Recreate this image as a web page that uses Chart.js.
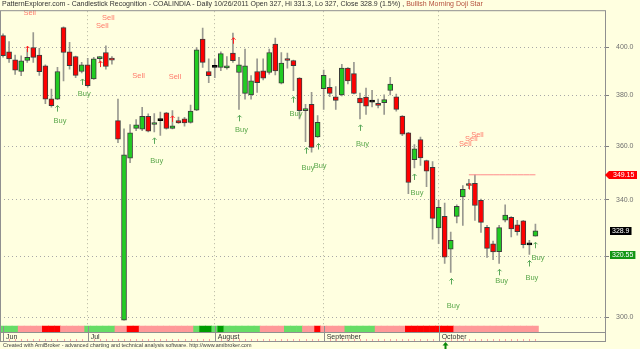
<!DOCTYPE html>
<html>
<head>
<meta charset="utf-8">
<script src="https://cdn.jsdelivr.net/npm/chart.js@4.4.0/dist/chart.umd.min.js"></script>
<style>
  html, body { margin: 0; padding: 0; background: #ffffe0; }
  #wrap { position: relative; width: 640px; height: 349px; overflow: hidden; }
  #chart { position: absolute; left: 0; top: 0; }
  #title { position: absolute; left: 2px; top: 0; font: 7px 'Liberation Sans', Arial, sans-serif; color: #333; white-space: nowrap; }
  #title .pat { color: #b4503c; }
  #footer { position: absolute; left: 3px; top: 342px; font: 5.45px 'Liberation Sans', Arial, sans-serif; color: #444; white-space: nowrap; }
</style>
</head>
<body>
<div id="wrap">
  <canvas id="chart" width="640" height="349"></canvas>
  <div id="title">PatternExplorer.com - Candlestick Recognition - COALINDIA - Daily 10/26/2011 Open 327, Hi 331.3, Lo 327, Close 328.9 (1.5%) , <span class="pat">Bullish Morning Doji Star</span></div>
  <div id="footer">Created with AmiBroker - advanced charting and technical analysis software. http://www.amibroker.com</div>
</div>
<script>
// month labels on the date axis (index of first bar of each month)
const monthNames = ['Jun', 'Jul', 'August', 'September', 'October'];
const monthStart = [0, 14, 35, 53, 72];

// daily OHLC, COALINDIA, June - 26 Oct 2011
const openP = [405.0, 398.1, 394.7, 389.8, 394.4, 399.9, 396.7, 392.2, 378.6, 378.5,
  408.5, 398.1, 396.1, 389.8, 392.6, 386.7, 395.2, 397.8, 395.1, 369.9,
  299.0, 355.4, 366.9, 366.6, 371.6, 368.4, 369.9, 373.0, 366.9, 369.9,
  370.6, 369.2, 374.1, 403.5, 389.8, 391.5, 391.5, 391.3, 397.5, 389.4,
  380.8, 380.2, 389.8, 390.1, 389.4, 401.4, 385.0, 395.1, 394.4, 387.1,
  373.9, 376.4, 363.5, 382.7, 383.3, 379.4, 380.2, 391.2, 388.9, 378.9,
  379.3, 377.3, 376.8, 377.1, 382.0, 379.4, 371.7, 365.1, 354.8, 362.5,
  354.5, 351.9, 329.9, 334.0, 322.5, 334.0, 341.0, 345.2, 346.0, 339.8,
  330.1, 324.4, 321.7, 332.7, 333.7, 331.0, 332.4, 324.0, 327.0];
const highP = [405.8, 402.4, 396.7, 396.4, 399.2, 406.3, 399.6, 392.6, 382.6, 391.5,
  408.8, 402.1, 396.3, 393.6, 395.3, 395.7, 396.1, 400.6, 396.1, 378.5,
  366.7, 368.4, 370.3, 375.2, 372.6, 372.7, 373.3, 373.2, 373.9, 371.3,
  371.2, 376.1, 399.9, 408.3, 395.1, 395.1, 398.1, 396.1, 406.1, 395.7,
  399.2, 388.1, 395.1, 395.1, 399.2, 403.9, 397.8, 397.5, 394.6, 387.3,
  376.4, 381.2, 371.9, 390.4, 386.9, 383.6, 392.8, 391.4, 393.6, 380.9,
  383.0, 382.1, 378.5, 380.2, 387.4, 380.5, 371.9, 365.3, 360.6, 363.5,
  354.7, 354.1, 339.8, 338.8, 328.5, 338.1, 345.2, 347.5, 349.15, 340.2,
  330.8, 325.3, 330.8, 338.1, 333.9, 332.6, 332.6, 325.6, 331.3];
const lowP = [395.8, 393.6, 388.6, 388.1, 393.6, 393.6, 388.2, 376.7, 375.3, 378.3,
  385.9, 390.8, 387.3, 389.2, 383.3, 386.5, 393.6, 390.8, 392.9, 361.3,
  299.0, 353.7, 366.0, 366.0, 365.5, 365.5, 364.1, 366.6, 366.7, 368.8,
  367.7, 368.9, 373.9, 391.5, 385.2, 387.3, 390.2, 390.8, 393.6, 374.4,
  378.5, 378.5, 381.2, 386.3, 388.7, 388.4, 384.7, 391.2, 381.9, 370.6,
  361.7, 357.7, 363.3, 374.4, 379.5, 374.4, 379.8, 384.7, 380.6, 370.6,
  372.4, 375.4, 375.0, 372.4, 380.2, 373.7, 364.0, 342.2, 351.7, 352.7,
  344.8, 326.0, 324.4, 317.7, 314.6, 331.7, 330.8, 344.0, 332.6, 328.3,
  319.7, 318.9, 317.7, 332.0, 326.8, 327.4, 323.0, 320.7, 327.0];
const closeP = [396.4, 395.1, 390.4, 394.3, 395.7, 395.7, 389.7, 378.5, 375.9, 389.8,
  397.8, 392.2, 388.2, 392.6, 384.0, 395.1, 395.4, 391.9, 394.6, 362.7,
  356.7, 365.1, 368.3, 371.6, 365.8, 369.0, 369.9, 366.9, 367.9, 369.0,
  369.0, 373.7, 398.9, 393.6, 388.1, 391.5, 397.3, 392.2, 394.3, 392.6,
  392.2, 386.0, 385.2, 387.0, 397.8, 390.1, 393.3, 394.4, 392.2, 373.9,
  374.6, 359.5, 369.2, 388.2, 380.8, 378.0, 391.2, 385.9, 380.8, 377.0,
  375.7, 377.3, 376.0, 378.3, 384.6, 374.4, 364.6, 346.3, 359.0, 355.5,
  350.5, 333.3, 337.2, 319.8, 325.6, 337.6, 343.8, 345.8, 337.9, 331.9,
  322.8, 321.6, 330.0, 334.5, 329.6, 328.6, 324.1, 324.0, 328.9];

// trend ribbon under the price pane: G green, D dark green, P pink, R red
const trendBand = 'GGGPPPPRRRPPPPGGGGGPPRRPPPPPPPPPGDDGDGGGGGGPPPPGGGPPRPPPPGGGGGPPPPPRRRRRRRRPPPPPPPPPPPPPP'.split('');

// signals
const buyIdx = [9, 13, 25, 39, 48, 50, 52, 59, 68, 74, 82, 87, 88];
const buyLabelAt = [369.8, 380.7, 354.4, 366.2, 372.5, 351.6, 352.6, 360.8, 342.4, 303.6, 311.8, 312.9, 319.5];
const sellIdx = [4, 16, 17, 22, 28, 76, 77, 78];
const sellLabelAt = [414.8, 409.1, 412.7, 388.0, 387.6, 360.8, 362.7, 364.3];
const upMarkIdx = [4, 16, 28, 38, 77];
const upMarkAt = [399.2, 392.9, 370.6, 402.8, 344.8];

const yTicks = [300, 320, 340, 360, 380, 400];
const resistance = 349.15;
const resistFrom = 77;
const tagValues = [349.15, 328.9, 320.55];
const tagKinds = ['red', 'black', 'green'];
const selectedIdx = 73;
const SLOTS = 100;

const bandColors = { G: '#66dd66', D: '#009c00', P: '#ff9999', R: '#ff0000' };
const labels = Array.from({ length: SLOTS }, (_, i) => {
  const m = monthStart.indexOf(i);
  return m >= 0 ? monthNames[m] : '';
});
const bodyColor = closeP.map((c, i) => c > openP[i] ? '#22cc22' : c < openP[i] ? '#ff0000' : '#000000');

Chart.defaults.font.family = "'Liberation Sans', Arial, sans-serif";

function arrow(ctx, cx, cy, color) {
  ctx.strokeStyle = color;
  ctx.lineWidth = 1;
  ctx.beginPath();
  ctx.moveTo(cx, cy + 3); ctx.lineTo(cx, cy - 3);
  ctx.moveTo(cx - 2, cy - 1); ctx.lineTo(cx, cy - 3); ctx.lineTo(cx + 2, cy - 1);
  ctx.stroke();
}

const extras = {
  id: 'extras',
  afterDatasetsDraw(chart) {
    const { ctx, scales: { x, y } } = chart;
    ctx.save();
    ctx.font = "7.5px 'Liberation Sans', Arial, sans-serif";
    ctx.textAlign = 'center';
    ctx.textBaseline = 'middle';
    ctx.fillStyle = '#ff7b6b';
    sellIdx.forEach((i, k) => ctx.fillText('Sell', x.getPixelForValue(i) + 2.5, y.getPixelForValue(sellLabelAt[k])));
    buyIdx.forEach((i, k) => {
      const cx = Math.round(x.getPixelForValue(i)) + 0.5;
      arrow(ctx, cx, y.getPixelForValue(lowP[i]) + 9, '#5aa85a');
      ctx.fillStyle = '#5ca84c';
      ctx.fillText('Buy', x.getPixelForValue(i) + 2.5, y.getPixelForValue(buyLabelAt[k]));
    });
    upMarkIdx.forEach((i, k) => arrow(ctx, Math.round(x.getPixelForValue(i)) + 0.5, y.getPixelForValue(upMarkAt[k]), '#ff2020'));
    ctx.restore();
  },
  afterDraw(chart) {
    const { ctx, chartArea: a, scales: { x, y } } = chart;
    ctx.save();
    // frame
    ctx.strokeStyle = '#909090';
    ctx.lineWidth = 1;
    ctx.strokeRect(0.5, a.top - 0.5, a.right, 341 - a.top + 1);
    // month separators and bar ticks on the date axis
    for (let i = 0; i < closeP.length; i++) {
      const px = Math.round(x.getPixelForValue(i)) + 0.5;
      ctx.strokeStyle = monthStart.includes(i) ? '#909090' : '#ffa0a0';
      ctx.beginPath();
      if (monthStart.includes(i)) { ctx.moveTo(px, a.bottom - 6); ctx.lineTo(px, 341); }
      else { ctx.moveTo(px, 341); ctx.lineTo(px, 339); }
      ctx.stroke();
    }
    // selected bar marker
    const sx = Math.round(x.getPixelForValue(selectedIdx)) + 0.5;
    ctx.fillStyle = '#0a8a0a';
    ctx.beginPath();
    ctx.moveTo(sx, 342); ctx.lineTo(sx - 3, 345.5); ctx.lineTo(sx + 3, 345.5); ctx.closePath(); ctx.fill();
    ctx.fillRect(sx - 1, 345, 2, 4);
    // value tags on the price axis
    ctx.font = "7px 'Liberation Sans', Arial, sans-serif";
    ctx.textBaseline = 'middle';
    ctx.textAlign = 'left';
    tagValues.forEach((v, k) => {
      const py = Math.round(y.getPixelForValue(v));
      const txt = String(v);
      if (tagKinds[k] === 'red') {
        ctx.fillStyle = '#ff0000';
        ctx.beginPath();
        ctx.moveTo(a.right, py); ctx.lineTo(a.right + 4, py - 4); ctx.lineTo(637, py - 4);
        ctx.lineTo(637, py + 4); ctx.lineTo(a.right + 4, py + 4); ctx.closePath(); ctx.fill();
        ctx.fillStyle = '#ffffff';
        ctx.fillText(txt, a.right + 8, py + 0.5);
      } else {
        const w = ctx.measureText(txt).width + 4;
        ctx.fillStyle = tagKinds[k] === 'black' ? '#000000' : '#149614';
        ctx.fillRect(a.right + 5, py - 4, w, 8);
        ctx.fillStyle = '#ffffff';
        ctx.fillText(txt, a.right + 7, py + 0.5);
      }
    });
    ctx.restore();
  }
};

new Chart(document.getElementById('chart'), {
  type: 'bar',
  data: {
    labels: labels,
    datasets: [
      {
        label: 'trend',
        data: trendBand.map(() => 1),
        backgroundColor: trendBand.map(c => bandColors[c]),
        yAxisID: 'ys',
        grouped: false,
        categoryPercentage: 1,
        barPercentage: 1,
        borderWidth: 0,
        order: 3
      },
      {
        label: 'range',
        data: lowP.map((l, i) => [l, highP[i]]),
        backgroundColor: '#999990',
        barThickness: 1,
        grouped: false,
        order: 2
      },
      {
        label: 'body',
        data: openP.map((o, i) => [o, closeP[i]]),
        backgroundColor: bodyColor,
        borderColor: bodyColor.map(c => c === '#000000' ? '#000000' : '#3c3c3c'),
        borderWidth: 1,
        borderSkipped: false,
        barThickness: 5,
        minBarLength: 2,
        grouped: false,
        order: 1
      },
      {
        type: 'line',
        label: 'resistance',
        data: closeP.map((_, i) => i >= resistFrom ? resistance : null),
        borderColor: '#ff8c8c',
        borderWidth: 1,
        pointRadius: 0,
        order: 0
      }
    ]
  },
  options: {
    responsive: false,
    animation: false,
    devicePixelRatio: 1,
    layout: { padding: { top: 10, left: 0, right: 0, bottom: 0 } },
    plugins: { legend: { display: false }, tooltip: { enabled: false } },
    scales: {
      x: {
        offset: true,
        afterFit: s => { s.height = 17; },
        grid: {
          offset: false,
          drawTicks: false,
          color: ctx => (ctx.index > 0 && monthStart.includes(ctx.index)) ? '#b4b4a0' : 'rgba(0,0,0,0)'
        },
        border: { display: true, color: '#909090', dash: [1, 3] },
        ticks: {
          autoSkip: false, maxRotation: 0, minRotation: 0,
          align: 'start', labelOffset: 3, padding: 1,
          color: '#333', font: { size: 7 }
        }
      },
      y: {
        type: 'logarithmic',
        position: 'right',
        min: 295.26,
        max: 415.7,
        afterBuildTicks: s => { s.ticks = yTicks.map(v => ({ value: v })); },
        afterFit: s => { s.width = 35; },
        grid: { color: '#a8a8a8', tickLength: 4, tickColor: '#808080' },
        border: { display: true, color: '#909090', dash: [1, 3] },
        ticks: { callback: v => v.toFixed(1), color: '#707070', padding: 7, font: { size: 7 } }
      },
      ys: {
        display: false,
        min: 0,
        max: 322 / 6
      }
    }
  },
  plugins: [extras]
});
</script>
</body>
</html>
